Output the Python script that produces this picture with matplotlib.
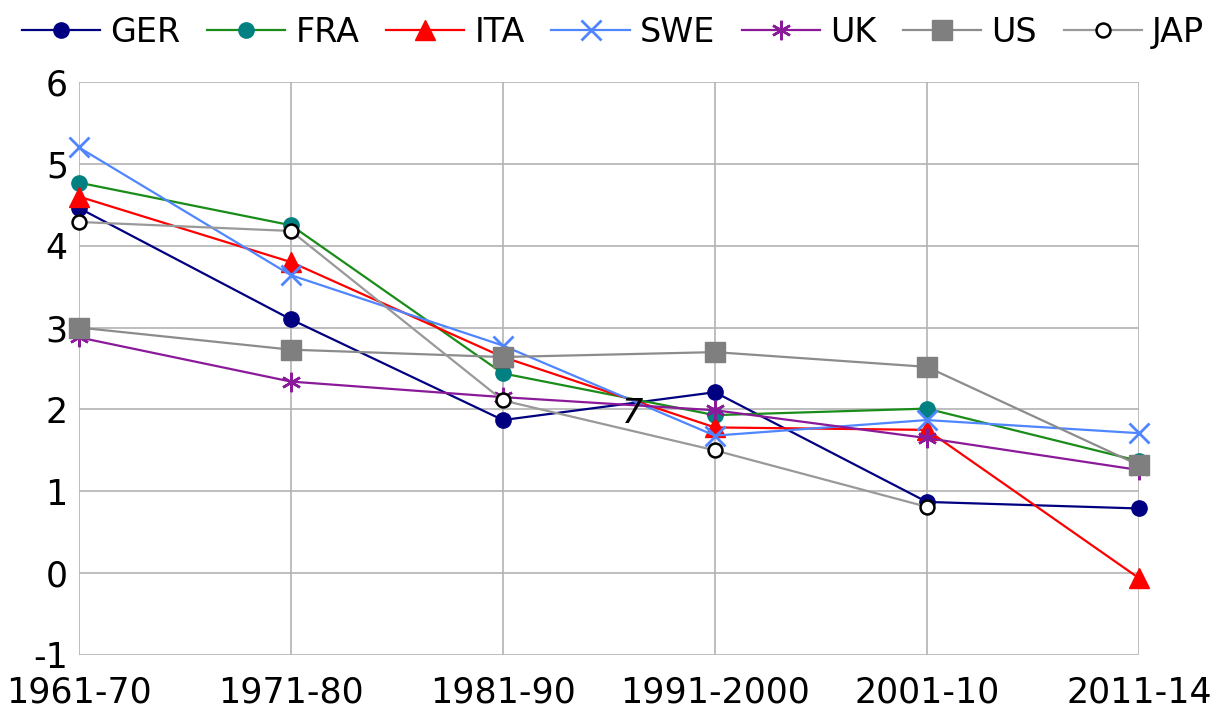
import numpy as np
import matplotlib
matplotlib.use("Agg")
import matplotlib.pyplot as plt

plt.rcParams["axes.unicode_minus"] = False

# periods on the x axis
periods = ["1961-70", "1971-80", "1981-90", "1991-2000", "2001-10", "2011-14"]

# values per country
ger = [4.46, 3.10, 1.87, 2.21, 0.87, 0.79]
fra = [4.77, 4.25, 2.44, 1.93, 2.01, 1.37]
ita = [4.60, 3.80, 2.64, 1.78, 1.75, -0.06]
swe = [5.20, 3.64, 2.78, 1.68, 1.87, 1.71]
uk = [2.88, 2.34, 2.15, 1.99, 1.65, 1.26]
us = [3.00, 2.73, 2.64, 2.70, 2.52, 1.32]
jap = [4.29, 4.18, 2.11, 1.50, 0.81, np.nan]

fig = plt.figure(figsize=(12.26, 7.16), dpi=100)
ax = fig.add_axes([0.0644, 0.0852, 0.8645, 0.8003])

x = np.arange(len(periods))
ms = dict(clip_on=False, zorder=3)
lw = 1.6

ax.plot(x, ger, color="#000080", lw=lw, marker="o", ms=11, mfc="#000080", mec="#000080", label="GER", **ms)
ax.plot(x, fra, color="#1a8c1a", lw=lw, marker="o", ms=11, mfc="#008080", mec="#008080", label="FRA", **ms)
ax.plot(x, ita, color="#ff0000", lw=lw, marker="^", ms=14, mfc="#ff0000", mec="#ff0000", label="ITA", **ms)
ax.plot(x, swe, color="#4f86ff", lw=lw, marker="x", ms=15, mew=2, mec="#4f86ff", label="SWE", **ms)
ax.plot(x, uk, color="#8b1a9a", lw=lw, marker=(6, 2, 0), ms=14, mew=1.8, mec="#8b1a9a", label="UK", **ms)
ax.plot(x, us, color="#8c8c8c", lw=lw, marker="s", ms=14, mfc="#7f7f7f", mec="#7f7f7f", label="US", **ms)
ax.plot(x, jap, color="#999999", lw=lw, marker="o", ms=10, mfc="white", mec="black", mew=1.8, label="JAP", **ms)

ax.text(2.61, 1.95, "7", fontsize=24, ha="center", va="center", style="italic")

ax.set_xlim(0, len(periods) - 1)
ax.set_ylim(-1, 6)
ax.set_xticks(x)
ax.set_xticklabels(periods, fontsize=25)
ax.set_yticks(range(-1, 7))
ax.tick_params(axis="y", labelsize=25, length=0, pad=8)
ax.tick_params(axis="x", length=0, pad=15)
ax.grid(True, color="#b3b3b3", lw=1.2)
for s in ax.spines.values():
    s.set_visible(False)
ax.set_axisbelow(True)

fig.legend(loc="upper center", bbox_to_anchor=(0.500, 1.02), ncol=7, frameon=False,
           fontsize=24, handlelength=2.35, columnspacing=0.8, handletextpad=0.3)

fig.savefig("out.png", dpi=100)
